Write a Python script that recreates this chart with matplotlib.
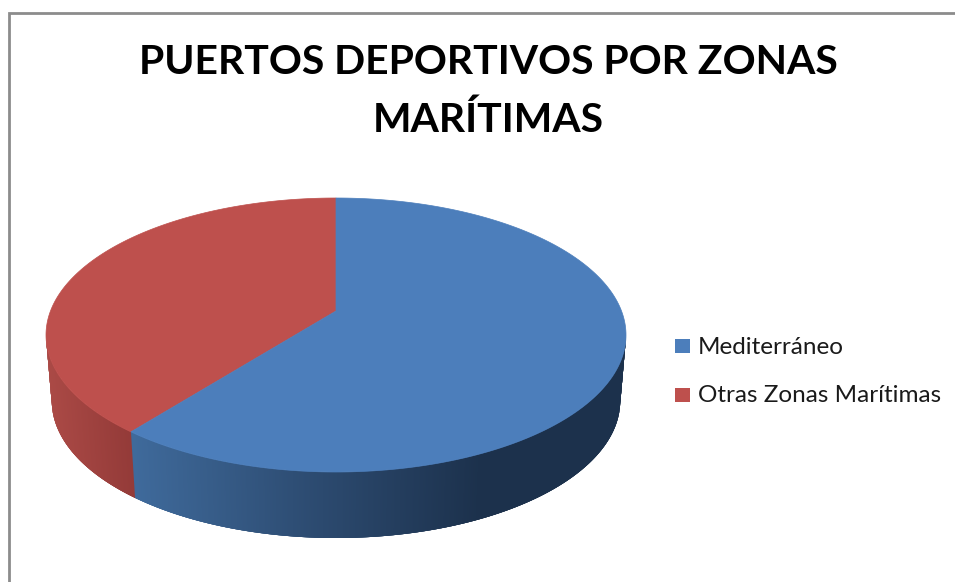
import numpy as np
import matplotlib
matplotlib.use('Agg')
import matplotlib.pyplot as plt
from matplotlib.colors import to_rgb
from matplotlib.patches import Polygon, Rectangle

title_lines = ['PUERTOS DEPORTIVOS POR ZONAS', 'MARÍTIMAS']
labels = ['Mediterráneo', 'Otras Zonas Marítimas']
values = [62.5, 37.5]
colors = ['#4c7ebb', '#be504d']

W, H = 955, 582
plt.rcParams['font.family'] = ['Lato', 'DejaVu Sans']
fig = plt.figure(figsize=(W / 100, H / 100), dpi=100, facecolor='white')

# background layer in pixel coords, for frame, title and legend
bg = fig.add_axes([0, 0, 1, 1], zorder=0)
bg.set_xlim(0, W)
bg.set_ylim(H, 0)
bg.axis('off')
bg.plot([8.5, 8.5, W], [H, 12.5, 12.5], color='#8c8c8c', lw=2, solid_joinstyle='miter')

for line, y in zip(title_lines, [63, 120]):
    bg.text(488, y, line, ha='center', va='center', fontsize=29.4, fontweight='bold', color='black')

legend_y = [346, 395]
text_y = [348, 396]
for lab, col, y, ty in zip(labels, colors, legend_y, text_y):
    bg.add_patch(Rectangle((675, y - 7), 15, 14, color=col, lw=0))
    bg.text(698, ty, lab, ha='left', va='center', fontsize=17.5, color='#1a1a1a')

# pie axes, the box is the top ellipse
ax = fig.add_axes([46 / W, 1 - 472 / H, 580 / W, 274 / H], zorder=1)
ax.set_xlim(-1, 1)
ax.set_ylim(-1, 1)
ax.axis('off')

split = 90 - 360 * values[0] / sum(values) + 360  # where the first slice ends
apex = (0, 24 / 137)  # perspective moves the centre of the top face up

# top face, red first so the blue edge sits on top
t = np.radians(np.linspace(split - 360, 90, 300))
blue_top = [apex] + list(zip(np.cos(t), np.sin(t)))
t = np.radians(np.linspace(90, split, 200))
red_top = [apex] + list(zip(np.cos(t), np.sin(t)))
ax.add_patch(Polygon(red_top, closed=True, facecolor=colors[1], edgecolor=colors[1], lw=0.5,
                     clip_on=False, zorder=5))
ax.add_patch(Polygon(blue_top, closed=True, facecolor=colors[0], edgecolor=colors[0], lw=0.5,
                     clip_on=False, zorder=6))

# side wall, strips coloured by their x position
depth = 66 / 137
shrink = 0.98
wall_x = [-0.7, -0.1, 0.5, 1]
wall_blue = ['#3f6a9b', '#2d4c72', '#1c314c', '#1c314c']
wall_red_x = [-1, -0.7]
wall_red = ['#ab4a46', '#933a38']


def ramp(x, xs, cols):
    rgb = np.array([to_rgb(c) for c in cols])
    return [np.interp(x, xs, rgb[:, i]) for i in range(3)]


# each strip runs a bit past the next one so no seams show
for a in np.arange(180, 360, 0.25):
    t = np.radians([a, min(a + 1, 360)])
    x1, x2 = np.cos(t)
    y1, y2 = np.sin(t)
    if a < split:
        col = ramp(x1, wall_red_x, wall_red)
    else:
        col = ramp(x1, wall_x, wall_blue)
    ax.add_patch(Polygon([(x1, y1), (x2, y2), (x2 * shrink, y2 - depth), (x1 * shrink, y1 - depth)],
                         closed=True, facecolor=col, lw=0, clip_on=False, zorder=2))

fig.savefig('out.png', dpi=100)
